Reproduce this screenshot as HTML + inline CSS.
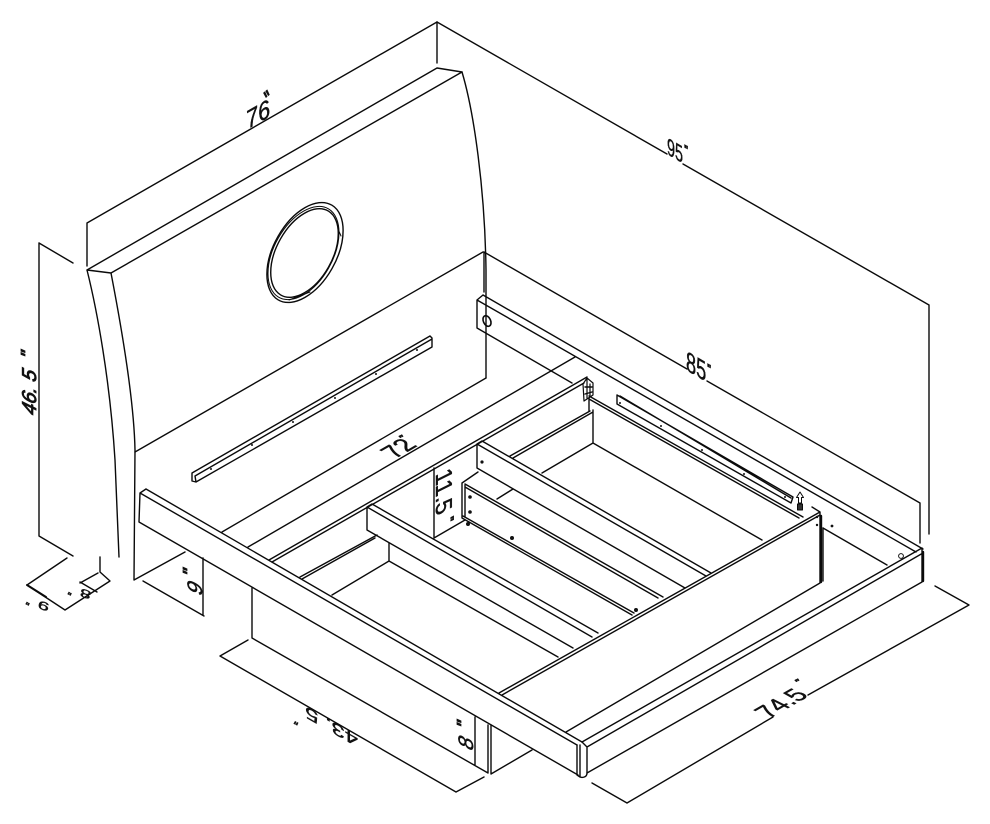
<!DOCTYPE html>
<html><head><meta charset="utf-8"><style>
html,body{margin:0;padding:0;background:#fff}
svg{display:block}
text{font-family:"Liberation Sans",sans-serif;fill:#111;stroke:#111;stroke-width:.45}
.i{font-style:italic}
.q{font-weight:bold;stroke-width:.8}
</style></head><body>
<svg width="990" height="824" viewBox="0 0 990 824" xmlns="http://www.w3.org/2000/svg">
<rect width="990" height="824" fill="#fff"/>
<g fill="none" stroke="#0a0a0a" stroke-width="1.4" stroke-linejoin="round" stroke-linecap="round">
<!-- dimension lines -->
<path d="M87 223L437 22M87 223L87 266M437 22L437 63"/>
<path d="M437 22L667 154M683 164L929 305M929 305L929 534"/>
<path d="M484 252L687 369M707 381L920 503M920 503L920 543M484 252L484 292"/>
<path d="M39 243L73 263M39 243L39 536L73 556"/>
<path d="M67 558L27 585L65 610L110 581L100 572M100 557L100 572M98 573L80 583M80 582L97 592"/>
<path d="M27 585L46 597" stroke-width="2"/>
<path d="M143 581L204 616M203 558L203 615"/>
<path d="M248 640L220 656L456 792L484 777"/>
<path d="M592 783L627 803L773 717M808 695L969 605L935 586"/>
<!-- headboard -->
<path d="M87 270L437 68L462 72L111 273Z"/>
<path d="M462 72C474 112 485 190 486 270L486 378"/>
<path d="M87 270C97 310 110 380 115 460L119 557"/>
<path d="M111 273C122 330 134 400 135 450L134 580L185 552"/>
<path d="M483 252L135 452M486 378L222 532"/>
<circle cx="0" cy="0" r="44" transform="matrix(.866 -.5 0 1.02 305 252.5)" vector-effect="non-scaling-stroke"/>
<circle cx="0" cy="0" r="39" transform="matrix(.866 -.5 0 1.02 304.5 253)" vector-effect="non-scaling-stroke"/>
<circle cx="0" cy="0" r="41" transform="matrix(.866 -.5 0 1.02 303.5 253)" vector-effect="non-scaling-stroke" stroke-width="1"/>
<path d="M338 229L341 236M289 300L310 292" stroke-width="1"/>
<!-- headboard ledger -->
<path d="M430 336L192 473L192 481L196 482L432 347L432 338L430 336M432 339L195 476L196 482"/>
<!-- far beam -->
<path d="M483 295L477 300L477 328L572 383M483 295L923 549M477 300L916 552"/>
<ellipse cx="487" cy="321" rx="3.6" ry="5.6" transform="rotate(-25 487 321)" stroke-width="1.6"/>
<!-- rail lines -->
<path d="M575 357L248 547M587 377L269 560M584 383L272 562"/>
<!-- hinge -->
<path d="M583 384L587 378L593 383L593 395L584 401ZM587 378L587 398M590 384L590 396" stroke-width="1.2"/>
<path d="M585 387L592 387M585 394L592 392" stroke-width="1.4"/>
<path d="M589 396L803 517M589 399L799 518M589 398L589 411"/>
<!-- far ledger -->
<path d="M617 395L793 497L791 503L617 404ZM620 396L791 498"/>
<!-- arrow -->
<path d="M800 492L796.5 497.5H798.5V503H801.5V497.5H803.5Z" stroke-width="1"/>
<path d="M797.5 504H802.5V510H797.5Z" stroke-width="1" fill="#333"/>
<!-- ledge and floor -->
<path d="M510 456L590 411M513 458L593 412M593 410L593 443L542 473M593 443L762 540"/>
<!-- foot panel -->
<path d="M499 693L820 512M502 695L820 515M812 507L820 512L820 583L566 732M823 528L823 581M823 528L887 565"/>
<path d="M821 516L821 582" stroke-width="2.4"/>
<!-- foot rail -->
<path d="M146 489L582 742M140 493L577 745M146 489L140 493L139 522L578 775"/>
<path d="M582 742L922 548M587 747L923 553M587 773L922 582M922 549L922 582"/>
<path d="M923 552L923 581" stroke-width="2.4"/>
<path d="M577 745L577 774M580 745L580 777M587 748L587 773C587 777 583 778 580 777L577 775M582 742L587 747"/>
<!-- crossbeam 1 -->
<path d="M482 441L711 573M477 444L706 576M477 468L685 588M477 444L482 441M477 444L477 468"/>
<!-- crossbeam 2 -->
<path d="M465 484L663 597M465 487L658 598M462 518L632 615M463 516L634 613M462 483L462 518M465 485L465 517M462 483L478 472M497 499L513 489"/>
<!-- crossbeam 3 -->
<path d="M372 504L598 633M367 507L592 637M367 530L573 648M367 507L372 504M367 507L367 530"/>
<path d="M434 468L434 538L465 520"/>
<path d="M377 535L300 577M375 538L302 579M389 543L389 561L558 657M389 561L332 595"/>
<!-- legs under -->
<path d="M252 588L252 638L488 773M475 717L475 765M488 725L488 773M491 725L491 774L532 750"/>
</g>
<g fill="#111">
<circle cx="335" cy="398" r="1"/><circle cx="376" cy="374" r="1"/><circle cx="417" cy="350" r="1"/>
<circle cx="293" cy="422" r="1"/><circle cx="252" cy="445" r="1"/><circle cx="211" cy="469" r="1"/>
<circle cx="620" cy="403" r="1"/><circle cx="661" cy="426" r="1"/><circle cx="702" cy="450" r="1"/><circle cx="744" cy="474" r="1"/><circle cx="785" cy="497" r="1"/>
<circle cx="470" cy="497" r="1.8"/><circle cx="470" cy="512" r="1.8"/><circle cx="512" cy="538" r="2"/><circle cx="636" cy="610" r="2"/><circle cx="468" cy="524" r="2"/>
<circle cx="482" cy="462" r="1.6"/>
<circle cx="817" cy="517" r="1.2"/><circle cx="817" cy="525" r="1.2"/><circle cx="832" cy="526" r="1.4"/>
</g>
<circle cx="901" cy="556" r="2.4" fill="none" stroke="#111"/>
<!-- labels -->
<text class="i" font-size="24" transform="matrix(.87 -.5 .2 1 248 129)">76</text>
<text font-size="24" transform="matrix(.6 .35 0 1 667 154)">95</text>
<text font-size="28" transform="matrix(.65 .375 0 1 686 370)">85</text>
<text font-size="24" transform="matrix(.87 -.5 1 .5 395 459)">72</text>
<text font-size="23" transform="matrix(0 1 -1 .5 436 474)">11.5</text>
<text font-size="24" transform="matrix(.87 -.5 1 .5 769 719)">74.5</text>
<text class="i" font-size="20" style="stroke-width:.9" transform="matrix(0 -1 1 .3 36 416)">46. 5</text>
<text font-size="21" transform="matrix(0 -1 1 .5 202 597)">9</text>
<text font-size="21" transform="matrix(0 -1 1 .5 473 752)">8</text>
<text font-size="21" transform="matrix(-1.13 -.65 0 -.8 358 736)">43. 5</text>
<text font-size="14" transform="matrix(-1.4 -.5 .2 -.8 50 604)">9</text>
<text font-size="14" transform="matrix(-1.4 -.5 .2 -.8 92 592)">8</text>
<!-- inch marks -->
<text class="q" font-size="18" transform="matrix(.6 -.5 .5 1 269 106)">"</text>
<text class="q" font-size="11" transform="matrix(.8 .4 0 1 684 152)">"</text>
<text class="q" font-size="11" transform="matrix(.8 .4 0 1 707 371)">"</text>
<text class="q" font-size="11" transform="matrix(.8 -.4 .5 .6 402 441)">"</text>
<text class="q" font-size="11" transform="matrix(0 1 -1 .5 446 519)">"</text>
<text class="q" font-size="11" transform="matrix(.8 -.4 .5 .6 798 685)">"</text>
<text class="q" font-size="16" transform="matrix(0 -1 1 .4 32 360)">"</text>
<text class="q" font-size="16" transform="matrix(0 -1 1 .4 194 578)">"</text>
<text class="q" font-size="16" transform="matrix(0 -1 1 .4 468 730)">"</text>
<text class="q" font-size="16" transform="matrix(-.6 -.3 .3 -.6 301 719)">"</text>
<text class="q" font-size="14" transform="matrix(-.6 -.3 .3 -.6 32 600)">"</text>
<text class="q" font-size="14" transform="matrix(-.6 -.3 .3 -.6 74 590)">"</text>
</svg>
</body></html>
